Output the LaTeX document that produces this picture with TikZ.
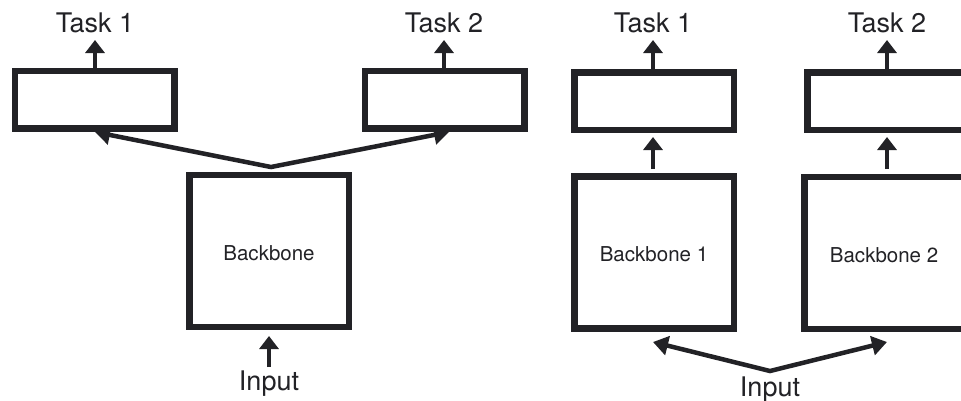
\documentclass[tikz,border=0pt]{standalone}
\usepackage{fontspec}
\setmainfont{TeX Gyre Heros}
\usetikzlibrary{arrows.meta}
\definecolor{ink}{RGB}{34,34,38}
\begin{document}
\begin{tikzpicture}[x=1pt,y=-1pt,
  box/.style={draw=ink,line width=6.5pt,inner sep=0pt},
  headbox/.style={box,minimum width=159.5pt,minimum height=57.5pt},
  bbbox/.style={box,minimum width=159.5pt,minimum height=152pt},
  arr/.style={draw=ink,line width=4pt,-{Triangle[width=19pt,length=13pt]}},
  darr/.style={draw=ink,line width=4.5pt,line join=miter,{Triangle[width=19pt,length=15pt]}-{Triangle[width=19pt,length=15pt]}},
  lab/.style={text=ink,font=\fontsize{27}{27}\selectfont,inner sep=0pt},
  blab/.style={text=ink,font=\fontsize{20.5}{20.5}\selectfont,inner sep=0pt}]
\useasboundingbox (0,0) rectangle (961,400);
\clip (0,0) rectangle (961,400);
\fill[white] (0,0) rectangle (961,400);
% left panel
\node[headbox] (t1l) at (94.5,99.5) {};
\node[headbox] (t2l) at (444.5,99.5) {};
\node[bbbox] (bbl) at (269,251) {};
\node[blab] (bbltext) at (269,253) {Backbone};
\node[lab] (task1l) at (95,23) {Task 1};
\node[lab] (task2l) at (444,23) {Task 2};
\node[lab] (inl) at (269,384) {Input};
\coordinate (t1lup) at (95,40);
\coordinate (t2lup) at (444,40);
\coordinate (t1lbot) at (95,68);
\coordinate (t2lbot) at (444,68);
\draw[arr] (t1lbot) -- (t1lup);
\draw[arr] (t2lbot) -- (t2lup);
\coordinate (inlfrom) at (269,367);
\coordinate (inlto) at (269,336);
\draw[arr] (inlfrom) -- (inlto);
\coordinate (apexl) at (271,167);
\coordinate (tipl1) at (95,132);
\coordinate (tipl2) at (449,132);
\draw[darr] (tipl1) -- (apexl) -- (tipl2);
% right panel
\node[headbox] (t1r) at (654,101) {};
\node[headbox] (t2r) at (887,101) {};
\node[bbbox] (bb1) at (654,252.5) {};
\node[bbbox] (bb2) at (884,253) {};
\node[blab] (bb1text) at (654,254) {Backbone 1};
\node[blab] (bb2text) at (884,255) {Backbone 2};
\node[lab] (task1r) at (653,23) {Task 1};
\node[lab] (task2r) at (887,23) {Task 2};
\node[lab] (inr) at (770,390) {Input};
\coordinate (t1rbot) at (653,69);
\coordinate (t1rup) at (653,40);
\coordinate (t2rbot) at (887,69);
\coordinate (t2rup) at (887,40);
\draw[arr] (t1rbot) -- (t1rup);
\draw[arr] (t2rbot) -- (t2rup);
\coordinate (m1bot) at (653,169);
\coordinate (m1top) at (653,137);
\coordinate (m2bot) at (887,169);
\coordinate (m2top) at (887,137);
\draw[arr] (m1bot) -- (m1top);
\draw[arr] (m2bot) -- (m2top);
\coordinate (apexr) at (770,371);
\coordinate (tipr1) at (653,342);
\coordinate (tipr2) at (887,342);
\draw[darr] (tipr1) -- (apexr) -- (tipr2);
\end{tikzpicture}
\end{document}
